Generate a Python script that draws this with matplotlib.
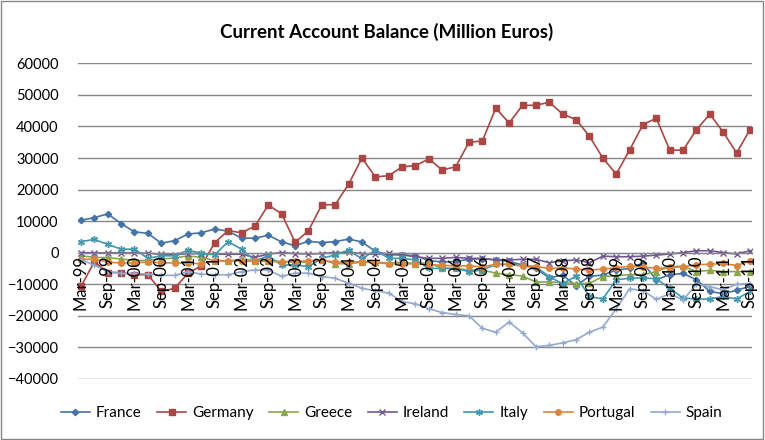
import matplotlib
matplotlib.use("Agg")
import matplotlib.pyplot as plt
from matplotlib.patches import Rectangle

plt.rcParams["font.family"] = ["Lato", "DejaVu Sans"]

# quarterly labels, Mar-99 .. Sep-11
quarters: list[str] = []
for year in range(1999, 2012):
    for month in ["Mar", "Jun", "Sep", "Dec"]:
        quarters.append(f"{month}-{str(year)[2:]}")
quarters = quarters[:51]

france = [10250, 11100, 12300, 9200, 6600, 6100, 3000, 3800, 5900, 6300,
          7500, 6800, 4600, 4600, 5500, 3400, 2200, 3600, 3200, 3500,
          4300, 3400, 400, -700, -700, -1000, -2500, -3000, -2800, -2100,
          -1900, -2300, -2800, -3900, -5000, -8000, -7100, -10500, -7500, -7100,
          -5500, -5000, -3300, -8600, -7000, -6600, -8600, -12300, -13000, -11900,
          -10700]
germany = [-10700, -2900, -6300, -6300, -7000, -7000, -12300, -11300, -6500, -4200,
           3200, 7000, 6300, 8400, 15100, 12300, 3300, 6900, 15200, 15200,
           21700, 30000, 24000, 24400, 27200, 27600, 29700, 26200, 27200, 35000,
           35400, 45800, 41100, 46700, 46700, 47700, 43900, 42200, 36900, 30000,
           24900, 32500, 40600, 42600, 32500, 32500, 39000, 43900, 38200, 31600,
           39000]
greece = [-1000, -1500, -1600, -2000, -2500, -2500, -2000, -1700, -1000, -1500,
          -2500, -2800, -2000, -2500, -2500, -2800, -3000, -3000, -2200, -3500,
          -3500, -3000, -3000, -3300, -3000, -3500, -3200, -5000, -5000, -5500,
          -5500, -6500, -7000, -7400, -9300, -9300, -9500, -9800, -9700, -7600,
          -7300, -7000, -7000, -6000, -4400, -4300, -6000, -5600, -6000, -6000,
          -6000]
ireland = [0, -100, -100, -100, -100, -200, -500, -600, -300, -300,
           -500, -500, -500, -1500, -400, 0, -300, -400, -300, 0,
           100, -300, -500, -200, -700, -1300, -1800, -1800, -1500, -1800,
           -1800, -2300, -2300, -2100, -2100, -3200, -2600, -2300, -3200, -1100,
           -1300, -1300, -1100, -800, -400, 0, 600, 600, 0, -400,
           600]
italy = [3500, 4200, 2600, 1100, 1100, -1800, -1000, -1000, 800, -200,
         -700, 3500, 1100, -2600, -1000, -4000, -3800, -4500, -1800, -700,
         800, -2000, 800, -1800, -1800, -2300, -5000, -5000, -5000, -6000,
         -5500, -3700, -3700, -4000, -4500, -7600, -9900, -7400, -13900, -14700,
         -8600, -8100, -8000, -8300, -11300, -14400, -14700, -14700, -13900, -14700,
         -12300]
portugal = [-2200, -2000, -3000, -3300, -3200, -3000, -3200, -3300, -3300, -3500,
            -2500, -2500, -2700, -2700, -2700, -3000, -2700, -2600, -2400, -3000,
            -3000, -2900, -3200, -3500, -3600, -3500, -3800, -4000, -4200, -4200,
            -4500, -3700, -3700, -4300, -4400, -5000, -4800, -5200, -5500, -5200,
            -4800, -4300, -4500, -5000, -4700, -4500, -3800, -3700, -3400, -4100,
            -2600]
spain = [-2200, -4000, -6000, -6600, -6600, -6800, -7200, -7200, -6000, -6800,
         -7000, -7000, -6000, -5500, -5500, -7500, -6500, -6500, -7600, -8100,
         -9700, -11300, -12100, -12800, -15500, -16200, -17800, -19000, -19600, -20000,
         -24000, -25200, -22000, -25400, -29800, -29400, -28600, -27600, -25200, -23600,
         -17800, -11500, -12000, -14800, -13000, -15000, -10000, -10800, -11800, -10000,
         -9800]

series = [
    ("France", france, "#4572A7", "D", 3.2),
    ("Germany", germany, "#AA4643", "s", 4.2),
    ("Greece", greece, "#89A54E", "^", 4.0),
    ("Ireland", ireland, "#71588F", "x", 4.5),
    ("Italy", italy, "#4198AF", (6, 2, 0), 5.0),
    ("Portugal", portugal, "#DB843D", "o", 4.0),
    ("Spain", spain, "#93A9CF", "+", 5.0),
]

fig = plt.figure(figsize=(7.65, 4.4), dpi=100)
ax = fig.add_axes([0.102, 0.139, 0.881, 0.717])

# horizontal axis crosses at zero, as in the spreadsheet chart
for side in ["top", "right", "left"]:
    ax.spines[side].set_visible(False)
ax.spines["bottom"].set_position(("data", 0))
ax.spines["bottom"].set_color("#868686")

x = list(range(len(quarters)))
for name, values, color, marker, size in series:
    ax.plot(x, values, color=color, marker=marker, markersize=size,
            markeredgewidth=1.0, linewidth=1.2, label=name)

ax.set_ylim(-40000, 60000)
ax.set_yticks(range(-40000, 60001, 10000))
ax.set_xlim(-0.22, 50.15)
ax.grid(axis="y", color="#868686", linewidth=1.0)
ax.set_axisbelow(True)
# category labels sit on top of the lines
ax.xaxis.set_zorder(3)

ax.set_xticks(x[::2])
ax.set_xticklabels(quarters[::2], rotation=90, fontsize=12)
ax.tick_params(axis="x", length=0, pad=2)
ax.tick_params(axis="y", length=0, labelsize=10.5, pad=14)

fig.suptitle("Current Account Balance (Million Euros)", x=0.505, y=0.948,
             fontsize=13.5, fontweight="bold")

fig.legend(loc="center", bbox_to_anchor=(0.512, 0.061), ncol=7, frameon=False,
           fontsize=11, handlelength=1.9, columnspacing=1.0, handletextpad=0.4)

fig.patches.append(Rectangle((0.001, 0.003), 0.997, 0.995, transform=fig.transFigure,
                             fill=False, edgecolor="#868686", linewidth=1.0))

fig.savefig("out.png", dpi=100)
